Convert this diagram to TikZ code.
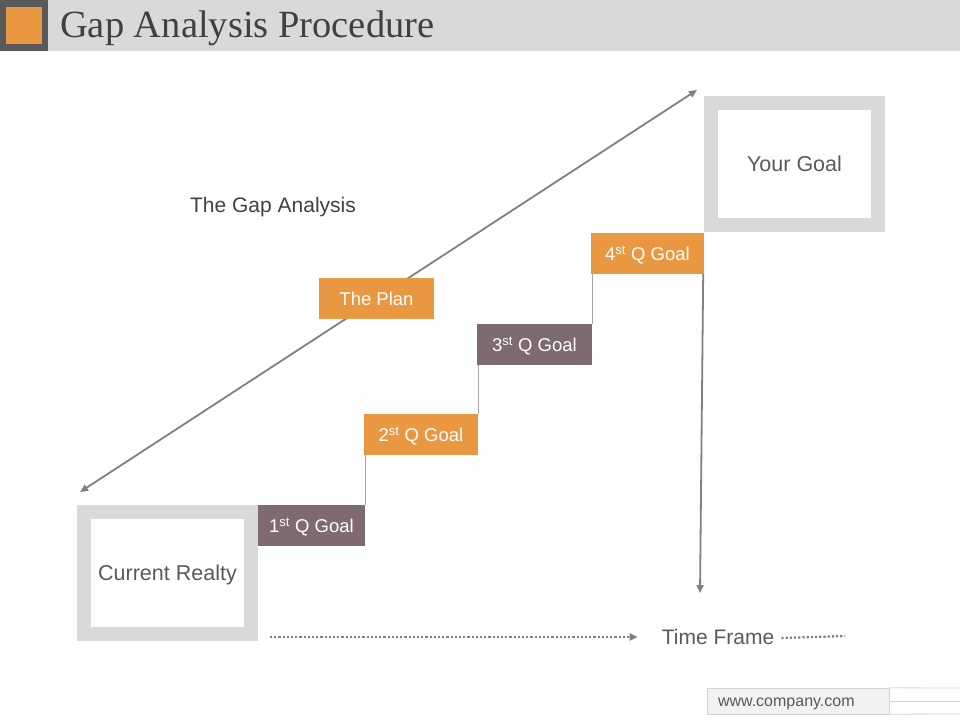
\documentclass[tikz,border=0pt]{standalone}
\usepackage{fontspec}
\setmainfont{Liberation Sans}
\newfontfamily\titlefont{Liberation Serif}
\usetikzlibrary{arrows.meta}
\definecolor{hdrgray}{RGB}{217,217,217}
\definecolor{darkgray}{RGB}{89,89,89}
\definecolor{txtgray}{RGB}{89,89,89}
\definecolor{titlegray}{RGB}{64,64,64}
\definecolor{orng}{RGB}{234,151,66}
\definecolor{mauve}{RGB}{126,106,114}
\definecolor{arrgray}{RGB}{128,128,128}
\definecolor{stepgray}{RGB}{166,166,166}
\definecolor{footfill}{RGB}{242,242,242}
\definecolor{footline}{RGB}{210,210,210}
\tikzset{
  framebox/.style={draw=hdrgray, line width=14pt, fill=white, minimum width=167pt, minimum height=122pt, inner sep=0pt, text depth=0pt, text=txtgray, font=\fontsize{21.5}{25}\selectfont},
  goalbox/.style={fill=#1, minimum height=41pt, inner sep=0pt, text depth=0pt, text=white, font=\fontsize{18.5}{22}\selectfont},
  arrline/.style={draw=arrgray, line width=1.8pt},
  steplink/.style={draw=stepgray, line width=0.9pt},
  tip/.style={-{Triangle[length=8pt,width=7pt]}},
  dotline/.style={draw=arrgray, line width=2.3pt, dash pattern=on 2.2pt off 2pt},
}
\begin{document}
\begin{tikzpicture}[x=1pt,y=-1pt]
\useasboundingbox (0,0) rectangle (960,720);
% header
\fill[hdrgray] (0,0) rectangle (960,51);
\fill[darkgray] (0,0) rectangle (48,51);
\fill[orng] (6,7) rectangle (42,44);
\node[anchor=base west, inner sep=0pt, text=titlegray, font=\titlefont\fontsize{38.5}{42}\selectfont] (title) at (60,37) {Gap Analysis Procedure};
% diagonal double arrow
\coordinate (dA) at (80,492);
\coordinate (dB) at (697,90);
\draw[arrline, {Triangle[length=8pt,width=7pt]}-{Triangle[length=8pt,width=7pt]}] (dA) -- (dB);
% frames
\node[framebox] (cur) at (167.5,573) {Current Realty};
\node[framebox] (goal) at (794.5,163.5) {Your Goal};
% goal boxes
\node[goalbox=mauve, minimum width=107pt] (q1) at (311.5,525.5) {1\textsuperscript{st} Q Goal};
\node[goalbox=orng, minimum width=114pt] (q2) at (421,434.5) {2\textsuperscript{st} Q Goal};
\node[goalbox=mauve, minimum width=115pt] (q3) at (534.5,344.5) {3\textsuperscript{st} Q Goal};
\node[goalbox=orng, minimum width=113pt] (q4) at (647.5,253.5) {4\textsuperscript{st} Q Goal};
\node[goalbox=orng, minimum width=115pt] (plan) at (376.5,298.5) {The Plan};
% step links
\draw[steplink] (q1.north east) -- (q1.north east |- q2.south);
\draw[steplink] (q2.north east) -- (q2.north east |- q3.south);
\draw[steplink] (q3.north east) -- (q3.north east |- q4.south);
% vertical arrow
\coordinate (vEnd) at (700,593);
\draw[arrline, tip] ([xshift=-1pt]q4.south east) -- (vEnd);
% gap analysis label
\node[text=titlegray, font=\fontsize{21}{24}\selectfont, inner sep=0pt, text depth=0pt] (gap) at (273,205) {The Gap Analysis};
% time frame
\node[text=txtgray, font=\fontsize{21}{24}\selectfont, inner sep=0pt, text depth=0pt] (time) at (718,637) {Time Frame};
\coordinate (tStart) at (270,637);
\draw[dotline] (tStart) -- ([xshift=-30pt]time.west);
\draw[draw=arrgray, line width=2pt, {Triangle[length=8pt,width=7pt]}-] ([xshift=-24pt]time.west) -- ++(-6,0);
\coordinate (tEnd) at (845,636);
\draw[dotline] ([xshift=7pt,yshift=-1pt]time.east) -- (tEnd);
% footer
\node[draw=footline, fill=footfill, minimum width=182pt, minimum height=26pt, inner sep=0pt] (foot) at (798,701) {};
\node[anchor=west, inner sep=0pt, text depth=0pt, text=txtgray, font=\fontsize{16}{18}\selectfont] (url) at ([xshift=11pt,yshift=-1pt]foot.west) {www.company.com};
\draw[footline, line width=0.8pt] (foot.north east) -- (960,688);
\draw[footline, line width=0.8pt] (foot.east) -- (960,701);
\draw[footline, line width=0.8pt] (foot.south east) -- (960,714);
\end{tikzpicture}
\end{document}
